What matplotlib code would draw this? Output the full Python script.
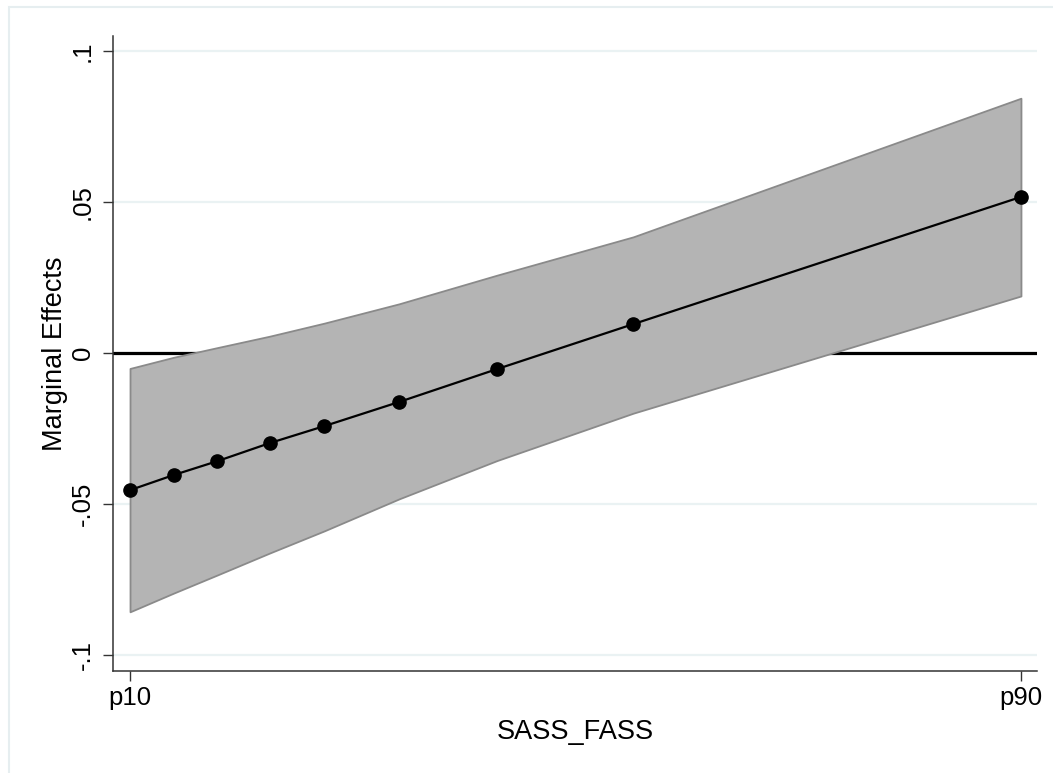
import numpy as np
import matplotlib
matplotlib.use("Agg")
import matplotlib.pyplot as plt
from matplotlib.patches import Rectangle

plt.rcParams['font.family'] = ['Liberation Sans', 'DejaVu Sans']

# SASS_FASS evaluated at percentiles p10 .. p90 (rescaled 0-1)
sass_fass = [0.0, 0.049, 0.098, 0.157, 0.218, 0.302, 0.412, 0.565, 1.0]
margins = [-0.0454, -0.0404, -0.0358, -0.0298, -0.0242, -0.0162, -0.0053, 0.0096, 0.0517]
ci_upper = [-0.0051, -0.0014, 0.0018, 0.0056, 0.0099, 0.0163, 0.0258, 0.0385, 0.0844]
ci_lower = [-0.0857, -0.0795, -0.0735, -0.0662, -0.0589, -0.0483, -0.0356, -0.0199, 0.0189]

yticks = [-0.1, -0.05, 0, 0.05, 0.1]
ylabels = ['-.1', '-.05', '0', '.05', '.1']
xlabels = ['p10', 'p90']

fig = plt.figure(figsize=(10.53, 7.73), dpi=100)
# light outer frame like stata graph region
fig.patches.append(Rectangle((9 / 1053, -0.01), 1.2, (773 - 7) / 773 + 0.01,
                             transform=fig.transFigure, fill=False,
                             edgecolor='#e6eef0', lw=1.5))
ax = fig.add_axes([113 / 1053, 102 / 773, 924 / 1053, 635 / 773])

ax.set_xlim(-0.0191, 1.018)
ax.set_ylim(-0.1053, 0.105)

for yt in yticks:
    ax.axhline(yt, color='#eaf2f3', lw=1.6, zorder=0)
ax.axhline(0, color='black', lw=2.3, zorder=1)

ax.fill_between(sass_fass, ci_lower, ci_upper, facecolor='#b4b4b4',
                edgecolor='#8a8a8a', lw=1.3, zorder=2)
ax.plot(sass_fass, margins, color='black', lw=1.6, marker='o', ms=9.5,
        zorder=3)

ax.set_yticks(yticks)
ax.set_yticklabels(ylabels, rotation=90, va='center')
ax.set_xticks([sass_fass[0], sass_fass[-1]])
ax.set_xticklabels(xlabels)
ax.tick_params(axis='both', length=7, width=1, color='#333333',
               labelsize=18.5)
ax.tick_params(axis='y', pad=6)
ax.tick_params(axis='x', pad=4)

for s in ['top', 'right']:
    ax.spines[s].set_visible(False)
for s in ['left', 'bottom']:
    ax.spines[s].set_color('#333333')
    ax.spines[s].set_linewidth(1.1)

ax.set_xlabel('SASS_FASS', fontsize=19.5, labelpad=6)
ax.set_ylabel('Marginal Effects', fontsize=19.5, labelpad=2)

fig.savefig('out.png', dpi=100)
